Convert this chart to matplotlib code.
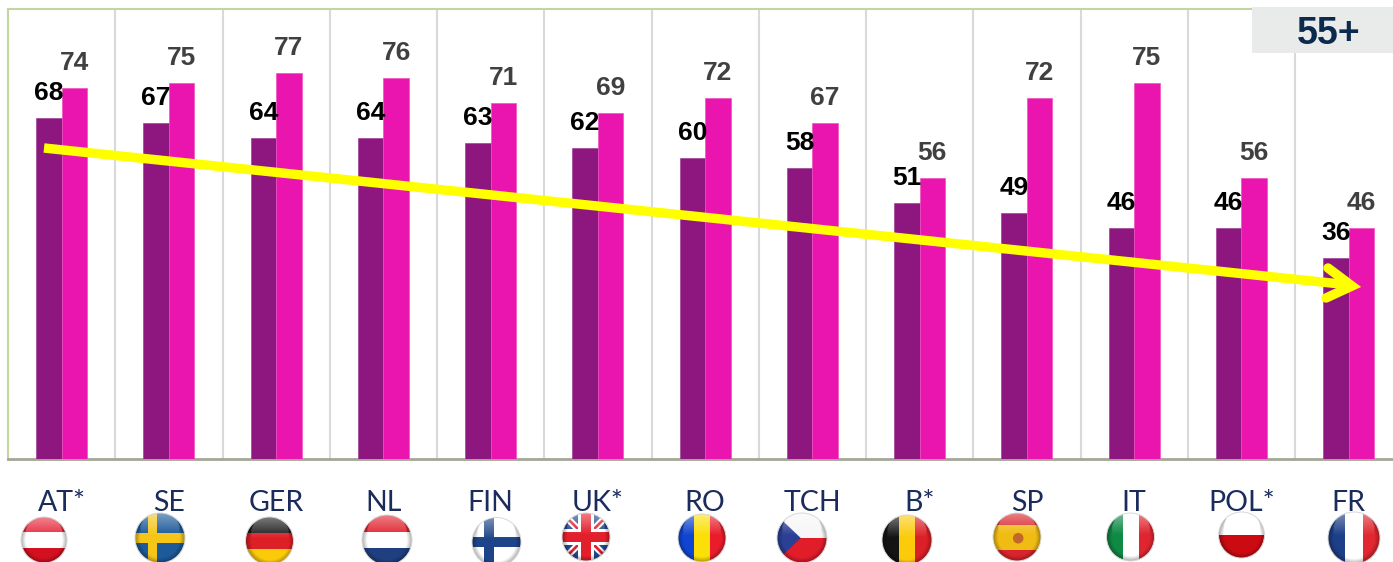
import numpy as np
import matplotlib
matplotlib.use("Agg")
import matplotlib.pyplot as plt
from matplotlib.patches import Circle, Polygon, Rectangle

W, H = 1393, 562

# --- data ---
countries = ["AT*", "SE", "GER", "NL", "FIN", "UK*", "RO", "TCH", "B*", "SP", "IT", "POL*", "FR"]
# the FR bar in the reference is drawn taller than its printed label
dark_vals = [68, 67, 64, 64, 63, 62, 60, 58, 51, 49, 46, 46, 40]
dark_labels = [68, 67, 64, 64, 63, 62, 60, 58, 51, 49, 46, 46, 36]
light_vals = [74, 75, 77, 76, 71, 69, 72, 67, 56, 72, 75, 56, 46]

# flag centre x, centre y, radius (pixels)
flag_x = [44, 160, 269.5, 387, 496.5, 586, 702, 802, 907, 1017, 1130.5, 1241.5, 1354]
flag_y = [540, 538, 541, 540, 542, 537, 538, 538, 540, 537, 537, 535, 538]
flag_r = [23, 25, 24, 25, 24.5, 24, 24, 25, 25, 24, 24, 23, 26]

DARK = "#8e177f"
LIGHT = "#ea14ae"
NAVY = "#1a2b5c"

fig = plt.figure(figsize=(W / 100, H / 100), dpi=100)

# --- bars ---
left, base, top = 8, 459, 8.5
cat_w = 107.25
ax = fig.add_axes([left / W, (H - base) / H, (W - left) / W, (base - top) / H])
x = np.arange(len(countries)) + 0.5
bw = 0.238
ax.bar(x - bw / 2, dark_vals, bw, color=DARK, edgecolor="#a0439a", linewidth=0.5, zorder=3)
ax.bar(x + bw / 2, light_vals, bw, color=LIGHT, edgecolor="#f050c0", linewidth=0.5, zorder=3)
ax.set_yticks([])

ax.set_xticks(x)
ax.set_xticklabels(countries, family="Lato", fontsize=20.5, color=NAVY)
ax.tick_params(axis="x", which="major", length=0, pad=22)
ax.set_xticks(np.arange(1, len(countries) + 1), minor=True)
ax.tick_params(axis="x", which="minor", length=0)
ax.grid(axis="x", which="minor", color="#d9d9d9", linewidth=1.5, zorder=0)
# after the ticks, the minor ones would widen the range otherwise
ax.set_xlim(0, (W - left) / cat_w)
ax.set_ylim(0, 89.8)

ax.spines["right"].set_visible(False)
ax.spines["left"].set_color("#c3d69b")
ax.spines["top"].set_color("#c3d69b")
ax.spines["left"].set_linewidth(1.5)
ax.spines["top"].set_linewidth(1.5)
ax.spines["bottom"].set_color("#a3a795")
ax.spines["bottom"].set_linewidth(2)

for xi, d, lab, l in zip(x, dark_vals, dark_labels, light_vals):
    ax.annotate(str(lab), (xi - bw / 2, d), xytext=(0, 18), textcoords="offset points",
                ha="center", va="center", family="Liberation Sans", weight="bold",
                fontsize=19, color="black", zorder=5)
    ax.annotate(str(l), (xi + bw / 2, l), xytext=(0, 18), textcoords="offset points",
                ha="center", va="center", family="Liberation Sans", weight="bold",
                fontsize=19, color="#404040", zorder=5)

# --- overlay in pixel coordinates: arrow, tag, flags ---
ov = fig.add_axes([0, 0, 1, 1], zorder=10)
ov.patch.set_alpha(0)
ov.axis("off")

ov.plot([44, 1350], [148, 285], color="#ffff00", lw=6.8, solid_capstyle="butt", zorder=4)
ov.plot([1328, 1352, 1326], [268, 286, 298], color="#ffff00", lw=6.8,
        solid_capstyle="round", solid_joinstyle="miter", zorder=4)

ov.add_patch(Rectangle((1252, 7), W - 1252, 46, color="#e9ebeb", lw=0, zorder=6))
ov.text(1329, 34, "55+", ha="center", va="center", family="Liberation Sans",
        weight="bold", fontsize=27, color="#0b2a4d", zorder=7)


def draw_flag(name, cx, cy, r):
    clip = Circle((cx, cy), r, transform=ov.transData)
    parts = []

    def rect(u0, v0, u1, v1, c):
        parts.append(Rectangle((cx + u0 * r, cy + v0 * r), (u1 - u0) * r, (v1 - v0) * r, color=c, lw=0))

    def poly(pts, c):
        parts.append(Polygon([(cx + u * r, cy + v * r) for u, v in pts], color=c, lw=0))

    def hstripes(cols, cuts=None):
        cuts = cuts or np.linspace(-1, 1, len(cols) + 1)
        for i, c in enumerate(cols):
            rect(-1, cuts[i], 1, cuts[i + 1], c)

    def vstripes(cols):
        cuts = np.linspace(-1, 1, len(cols) + 1)
        for i, c in enumerate(cols):
            rect(cuts[i], -1, cuts[i + 1], 1, c)

    if name == "AT*":
        hstripes(["#e5283a", "#ffffff", "#d2101f"], [-1, -0.35, 0.35, 1])
    elif name == "SE":
        rect(-1, -1, 1, 1, "#1c5a9a")
        rect(-0.5, -1, -0.12, 1, "#f5c518")
        rect(-1, -0.2, 1, 0.2, "#f5c518")
    elif name == "GER":
        hstripes(["#1a1a1a", "#dd1f26", "#fbcb0a"])
    elif name == "NL":
        hstripes(["#e0202c", "#ffffff", "#1f3f80"])
    elif name == "FIN":
        rect(-1, -1, 1, 1, "#ffffff")
        rect(-0.5, -1, -0.1, 1, "#1d4488")
        rect(-1, -0.2, 1, 0.2, "#1d4488")
    elif name == "UK*":
        rect(-1, -1, 1, 1, "#24498f")
        poly([(-1, -0.8), (-0.8, -1), (1, 0.8), (0.8, 1)], "#ffffff")
        poly([(1, -0.8), (0.8, -1), (-1, 0.8), (-0.8, 1)], "#ffffff")
        poly([(-1, -0.92), (-0.92, -1), (1, 0.92), (0.92, 1)], "#e2202c")
        poly([(1, -0.92), (0.92, -1), (-1, 0.92), (-0.92, 1)], "#e2202c")
        rect(-0.34, -1, 0.34, 1, "#ffffff")
        rect(-1, -0.34, 1, 0.34, "#ffffff")
        rect(-0.2, -1, 0.2, 1, "#e2202c")
        rect(-1, -0.2, 1, 0.2, "#e2202c")
    elif name == "RO":
        vstripes(["#0f45d0", "#fbdf08", "#ea1c2c"])
    elif name == "TCH":
        hstripes(["#f7f7f7", "#e11d2a"])
        poly([(-1, -0.9), (-0.05, 0), (-1, 0.9)], "#2b3f94")
    elif name == "B*":
        vstripes(["#141414", "#fbcb0a", "#dc2027"])
    elif name == "SP":
        hstripes(["#d8242c", "#f0bb12", "#d8242c"], [-1, -0.5, 0.55, 1])
        parts.append(Circle((cx + 0.05 * r, cy + 0.05 * r), 0.22 * r, color="#c2672a", lw=0))
    elif name == "IT":
        vstripes(["#0f8a45", "#ffffff", "#df2530"])
    elif name == "POL*":
        hstripes(["#ffffff", "#cc0a12"])
    elif name == "FR":
        vstripes(["#1d3f87", "#ffffff", "#e12730"])

    for p in parts:
        ov.add_patch(p)
        p.set_clip_path(clip)
        p.set_zorder(5)

    # gloss on top, darker at the rim
    v, u = np.mgrid[-1:1:64j, -1:1:64j]
    shade = np.zeros((64, 64, 4))
    white = np.clip((-0.1 - v) / 0.9, 0, 1) * 0.42
    rim = np.clip((np.hypot(u, v) - 0.8) / 0.2, 0, 1) * 0.3
    shade[..., :3] = (white > rim)[..., None] * 1.0
    shade[..., 3] = np.maximum(white, rim)
    im = ov.imshow(shade, extent=(cx - r, cx + r, cy + r, cy - r), zorder=5.5,
                   interpolation="bilinear", aspect="auto")
    im.set_clip_path(clip)
    ov.add_patch(Circle((cx, cy), r, fill=False, ec="#d8d8d8", lw=0.7, zorder=5.6))


for name, cx, cy, r in zip(countries, flag_x, flag_y, flag_r):
    draw_flag(name, cx, cy, r)

ov.set_xlim(0, W)
ov.set_ylim(H, 0)

fig.savefig("out.png", dpi=100)
